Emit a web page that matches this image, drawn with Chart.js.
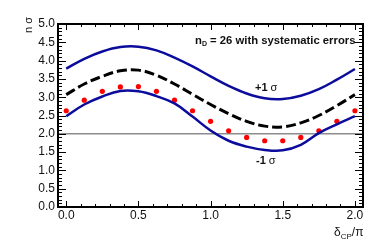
<!DOCTYPE html>
<html>
<head>
<meta charset="utf-8">
<script src="https://cdn.jsdelivr.net/npm/chart.js@4"></script>
<style>
  html, body { margin: 0; padding: 0; background: #fff; }
  #wrap { width: 382px; height: 244px; }
</style>
</head>
<body>
<div id="wrap"><canvas id="sigChart" width="382" height="244"></canvas></div>
<script>
// delta_CP / pi sample points
const deltaCP = [0, 0.125, 0.25, 0.375, 0.5, 0.625, 0.75, 0.875, 1.0,
                 1.125, 1.25, 1.375, 1.5, 1.625, 1.75, 1.875, 2.0];

// +1 sigma band, median (dashed), -1 sigma band
const upperSigma = [3.78, 4.05, 4.25, 4.37, 4.38, 4.28, 4.08, 3.84, 3.57,
                    3.31, 3.10, 2.97, 2.95, 3.04, 3.22, 3.48, 3.77];
const medianSigma = [3.07, 3.36, 3.57, 3.72, 3.74, 3.60, 3.36, 3.08, 2.80,
                     2.55, 2.34, 2.21, 2.19, 2.30, 2.50, 2.77, 3.07];
const lowerSigma = [2.48, 2.80, 3.02, 3.17, 3.16, 3.03, 2.83, 2.47, 2.09,
                    1.81, 1.65, 1.56, 1.55, 1.70, 2.02, 2.26, 2.48];

// red points
const pointSigma = [2.63, 2.92, 3.16, 3.28, 3.29, 3.16, 2.92, 2.63, 2.34,
                    2.08, 1.90, 1.81, 1.81, 1.90, 2.08, 2.34, 2.63];

const refLevel = 2.0;

const xTickLabels = ['0.0', '0.5', '1.0', '1.5', '2.0'];
const yTickLabels = ['0.0', '0.5', '1.0', '1.5', '2.0', '2.5', '3.0', '3.5', '4.0', '4.5', '5.0'];

const toXY = vals => deltaCP.map((x, i) => ({ x: x, y: vals[i] }));

const FONT = '"Liberation Sans", Arial, sans-serif';
const BLUE = '#0c0c9c';

// ROOT style frame, ticks, labels and texts
const rootFrame = {
    id: 'rootFrame',
    beforeDatasetsDraw(chart) {
        const { ctx, chartArea: a, scales: { x, y } } = chart;
        const yy = y.getPixelForValue(refLevel);
        ctx.save();
        ctx.strokeStyle = '#8c8c8c';
        ctx.lineWidth = 1.5;
        ctx.beginPath();
        ctx.moveTo(a.left, yy);
        ctx.lineTo(a.right, yy);
        ctx.stroke();
        ctx.restore();
    },
    afterDraw(chart) {
        const { ctx, chartArea: a, scales: { x, y } } = chart;
        ctx.save();
        ctx.strokeStyle = '#000';
        ctx.lineWidth = 1;

        // y ticks, left and right
        for (let i = 0; i <= 50; i++) {
            const v = i / 10;
            const p = Math.round(y.getPixelForValue(v)) + 0.5;
            const len = (i % 5 === 0) ? 8 : 4;
            ctx.beginPath();
            ctx.moveTo(a.left, p); ctx.lineTo(a.left + len, p);
            ctx.moveTo(a.right, p); ctx.lineTo(a.right - len, p);
            ctx.stroke();
        }
        // x ticks, bottom and top
        for (let i = 0; i <= 20; i++) {
            const v = i / 10;
            const p = Math.round(x.getPixelForValue(v)) + 0.5;
            const len = (i % 5 === 0) ? 6 : 3;
            ctx.beginPath();
            ctx.moveTo(p, a.bottom); ctx.lineTo(p, a.bottom - len);
            ctx.moveTo(p, a.top); ctx.lineTo(p, a.top + len);
            ctx.stroke();
        }

        // frame
        ctx.lineWidth = 2;
        ctx.strokeRect(a.left, a.top, a.right - a.left, a.bottom - a.top);

        // tick labels
        ctx.fillStyle = '#111';
        ctx.font = '12px ' + FONT;
        ctx.textAlign = 'right';
        ctx.textBaseline = 'middle';
        yTickLabels.forEach(t => {
            ctx.fillText(t, a.left - 3, y.getPixelForValue(parseFloat(t)));
        });
        ctx.textAlign = 'center';
        ctx.textBaseline = 'top';
        xTickLabels.forEach(t => {
            ctx.fillText(t, x.getPixelForValue(parseFloat(t)), a.bottom + 3);
        });

        // axis titles
        ctx.save();
        ctx.translate(28.5, a.top - 7);
        ctx.rotate(-Math.PI / 2);
        ctx.textAlign = 'right';
        ctx.textBaseline = 'middle';
        ctx.font = '11px ' + FONT;
        ctx.fillText('n σ', 0, 0);
        ctx.restore();

        ctx.textAlign = 'left';
        ctx.textBaseline = 'alphabetic';
        ctx.font = '12px ' + FONT;
        let tx = 334;
        ctx.fillText('δ', tx, 236);
        tx += ctx.measureText('δ').width;
        ctx.font = '8px ' + FONT;
        ctx.fillText('CP', tx, 239);
        tx += ctx.measureText('CP').width;
        ctx.font = '12px ' + FONT;
        ctx.fillText('/π', tx, 236);

        // header text
        ctx.font = 'bold 11.3px ' + FONT;
        let hx = 195;
        ctx.fillText('n', hx, 44);
        hx += ctx.measureText('n').width;
        ctx.font = 'bold 7px ' + FONT;
        ctx.fillText('D', hx, 46);
        hx += ctx.measureText('D').width;
        ctx.font = 'bold 11.3px ' + FONT;
        ctx.fillText(' = 26 with systematic errors', hx, 44);

        // sigma labels
        const sigmaLabel = (sign, lx, ly) => {
            ctx.font = 'bold 11px ' + FONT;
            ctx.fillText(sign + '1', lx, ly);
            const w = ctx.measureText(sign + '1 ').width;
            ctx.font = '11px ' + FONT;
            ctx.fillText('σ', lx + w, ly);
        };
        sigmaLabel('+', 255, 90.5);
        sigmaLabel('-', 256, 164);

        ctx.restore();
    }
};

const ctx = document.getElementById('sigChart').getContext('2d');
const sigChart = new Chart(ctx, {
    type: 'scatter',
    data: {
        datasets: [
            {
                label: '+1 sigma',
                data: toXY(upperSigma),
                showLine: true,
                borderColor: BLUE,
                borderWidth: 2.5,
                pointRadius: 0,
                tension: 0.4
            },
            {
                label: 'median',
                data: toXY(medianSigma),
                showLine: true,
                borderColor: '#000',
                borderWidth: 3,
                borderDash: [10, 4],
                pointRadius: 0,
                tension: 0.4
            },
            {
                label: '-1 sigma',
                data: toXY(lowerSigma),
                showLine: true,
                borderColor: BLUE,
                borderWidth: 2.5,
                pointRadius: 0,
                tension: 0.4
            },
            {
                label: 'points',
                data: toXY(pointSigma),
                showLine: false,
                pointRadius: 2.6,
                pointBackgroundColor: '#ff0000',
                pointBorderWidth: 0,
                pointBorderColor: '#ff0000'
            }
        ]
    },
    options: {
        responsive: false,
        animation: false,
        devicePixelRatio: 1,
        layout: { padding: { left: 58, right: 19, top: 24, bottom: 37 } },
        plugins: {
            legend: { display: false },
            tooltip: { enabled: false }
        },
        scales: {
            x: { type: 'linear', min: -0.057, max: 2.056, display: false },
            y: { type: 'linear', min: 0, max: 5, display: false }
        }
    },
    plugins: [rootFrame]
});
</script>
</body>
</html>
